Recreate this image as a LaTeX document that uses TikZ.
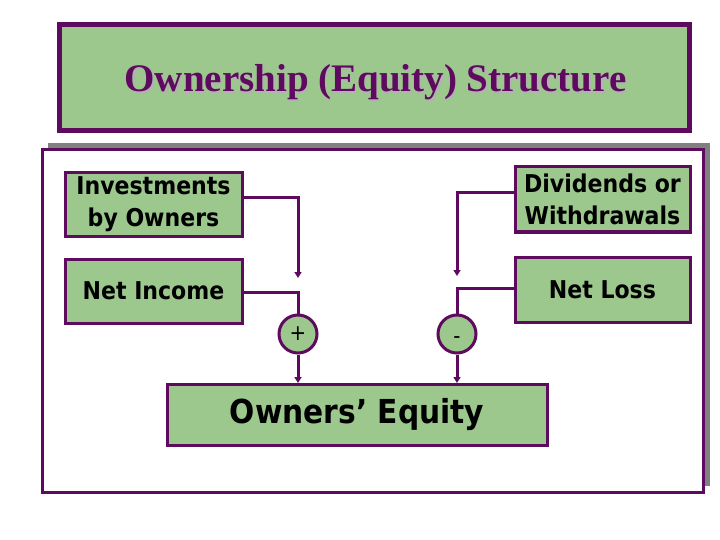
\documentclass[tikz,border=0pt]{standalone}
\usepackage{fontspec}
\setmainfont{DejaVu Sans Condensed}
\newfontfamily\titlefont{Liberation Serif}
\usetikzlibrary{arrows.meta}
\definecolor{pur}{RGB}{94,10,94}
\definecolor{grn}{RGB}{156,199,141}
\definecolor{shd}{RGB}{128,128,128}
\tikzset{
  box/.style={draw=pur, fill=grn, line width=3pt, inner sep=0pt, align=center, font=\bfseries\fontsize{24.5}{32}\selectfont},
  sign/.style={draw=pur, fill=grn, line width=3pt, circle, minimum size=38pt, inner sep=0pt, font=\fontsize{22}{24}\selectfont},
  conn/.style={draw=pur, line width=3pt},
  arr/.style={conn, -{Triangle[length=6pt,width=7pt]}}
}
\begin{document}
\begin{tikzpicture}[x=1pt,y=-1pt]
\useasboundingbox (0,0) rectangle (720,540);
% title box
\draw[draw=pur, fill=grn, line width=5pt] (59.5,24.5) rectangle (689.5,130.5);
\node[text=black!30, font=\titlefont\bfseries\fontsize{39}{44}\selectfont] (tshadow) at (377,84) {Ownership (Equity) Structure};
\node[text=pur, font=\titlefont\bfseries\fontsize{39}{44}\selectfont] (title) at (375.5,82.5) {Ownership (Equity) Structure};
% panel
\fill[shd] (48,143) rectangle (710,486);
\draw[draw=pur, fill=white, line width=3pt] (42,150) rectangle (703,492);
% boxes
\node[box, minimum width=177pt, minimum height=63pt] (inv) at (153.5,204.5) {Investments\\by Owners};
\node[box, minimum width=177pt, minimum height=64pt] (ni) at (153.5,291) {Net Income};
\node[box, minimum width=175pt, minimum height=65pt] (div) at (602.5,199.5) {Dividends or\\Withdrawals};
\node[box, minimum width=175pt, minimum height=65pt] (nl) at (602.5,289.5) {Net Loss};
\node[box, minimum width=380pt, minimum height=61pt, font=\bfseries\fontsize{33}{38}\selectfont] (oe) at (357,415) {Owners’ Equity};
\node[sign] (plus) at (298,334) {+};
\node[sign] (minus) at (457,334) {\smash{\raisebox{-9pt}{-}}};
\coordinate (a1) at (298,278);
\coordinate (a2) at (457,276);
% connectors
\draw[arr] ([yshift=6.5pt]inv.east) -| (a1);
\draw[conn] ([yshift=-1pt]ni.east) -| (plus.north);
\draw[arr] ([yshift=6.5pt]div.west) -| (a2);
\draw[conn] ([yshift=1.5pt]nl.west) -| (minus.north);
\draw[arr] (plus.south) -- (plus.south |- oe.north);
\draw[arr] (minus.south) -- (minus.south |- oe.north);
\end{tikzpicture}
\end{document}
